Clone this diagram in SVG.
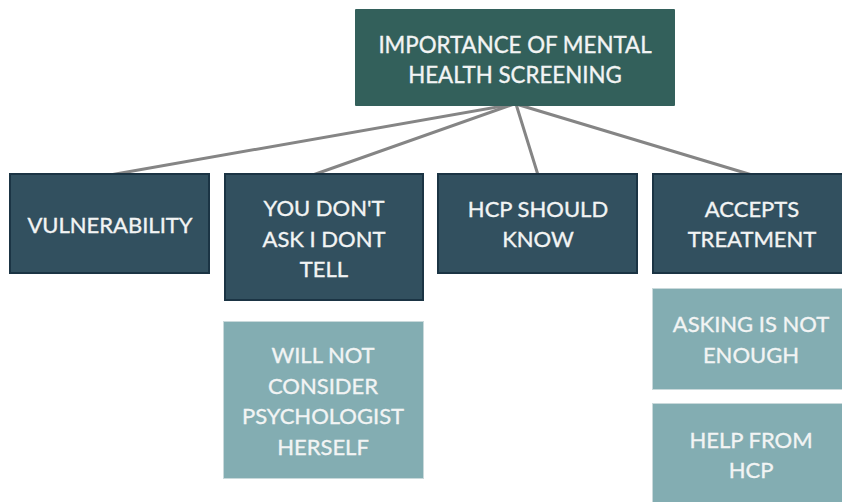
<svg xmlns="http://www.w3.org/2000/svg" width="842" height="502" viewBox="0 0 842 502">
  <style>
    .root { fill: #33605b; }
    .mid { fill: #32505f; stroke: #1b3444; stroke-width: 2; }
    .leaf { fill: #83adb2; stroke: #c9d9db; stroke-width: 1; }
    .lbl { font-family: Lato, "Open Sans", sans-serif; font-size: 22px; fill: #f2f4f4; stroke: #f2f4f4; stroke-width: 0.35; text-anchor: middle; }
    .big { font-size: 22.3px; }
    .link { stroke: #858585; stroke-width: 3; fill: none; stroke-linecap: round; }
  </style>
  <rect width="842" height="502" fill="#ffffff"/>

  <!-- connectors from the root to the four themes -->
  <g id="connectors">
    <line class="link" x1="514" y1="104" x2="110" y2="175"/>
    <line class="link" x1="514" y1="104" x2="310" y2="176"/>
    <line class="link" x1="516" y1="104" x2="538" y2="175"/>
    <line class="link" x1="516" y1="104" x2="752" y2="175"/>
  </g>

  <g id="root">
    <rect class="root" x="355" y="9" width="320" height="97" rx="1"/>
    <text class="lbl big" x="515" y="53">IMPORTANCE OF MENTAL</text>
    <text class="lbl big" x="515" y="83">HEALTH SCREENING</text>
  </g>

  <g id="vulnerability">
    <rect class="mid" x="10" y="174" width="199" height="99"/>
    <text class="lbl" x="110" y="233">VULNERABILITY</text>
  </g>

  <g id="dont-ask">
    <rect class="mid" x="225" y="174" width="198" height="126"/>
    <text class="lbl" x="324" y="216">YOU DON'T</text>
    <text class="lbl" x="324" y="247">ASK I DONT</text>
    <text class="lbl" x="324" y="277">TELL</text>
  </g>

  <g id="hcp-should-know">
    <rect class="mid" x="438" y="174" width="199" height="99"/>
    <text class="lbl" x="538" y="217">HCP SHOULD</text>
    <text class="lbl" x="538" y="247">KNOW</text>
  </g>

  <g id="accepts-treatment">
    <rect class="mid" x="653" y="174" width="200" height="99"/>
    <text class="lbl" x="752" y="217">ACCEPTS</text>
    <text class="lbl" x="752" y="247">TREATMENT</text>
  </g>

  <g id="will-not-consider">
    <rect class="leaf" x="223.5" y="321.5" width="200" height="157"/>
    <text class="lbl" x="323" y="363">WILL NOT</text>
    <text class="lbl" x="323" y="393.5">CONSIDER</text>
    <text class="lbl" x="323" y="424">PSYCHOLOGIST</text>
    <text class="lbl" x="323" y="455">HERSELF</text>
  </g>

  <g id="asking-not-enough">
    <rect class="leaf" x="652.5" y="288.5" width="200" height="101"/>
    <text class="lbl" x="751" y="332">ASKING IS NOT</text>
    <text class="lbl" x="751" y="363">ENOUGH</text>
  </g>

  <g id="help-from-hcp">
    <rect class="leaf" x="652.5" y="403.5" width="200" height="110"/>
    <text class="lbl" x="751" y="448">HELP FROM</text>
    <text class="lbl" x="751" y="478">HCP</text>
  </g>
</svg>
